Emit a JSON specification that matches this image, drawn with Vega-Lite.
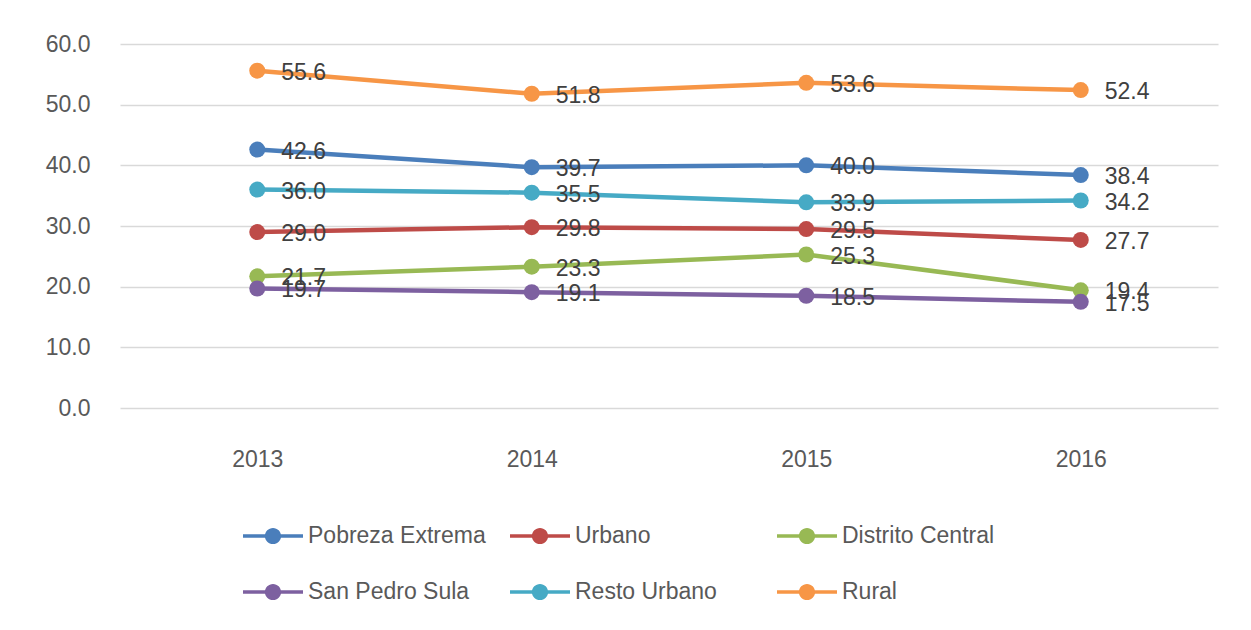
{
  "$schema": "https://vega.github.io/schema/vega-lite/v6.json",
  "width": 1098,
  "height": 364,
  "autosize": {"type": "none"},
  "padding": {"left": 120, "top": 44, "right": 33, "bottom": 222},
  "background": "white",
  "config": {
    "view": {"stroke": null},
    "font": "Liberation Sans",
    "axis": {"labelFont": "Liberation Sans", "labelFontSize": 23, "labelColor": "#595959", "domain": false, "ticks": false, "title": null}
  },
  "data": {
    "values": [
      {"year": "2013", "series": "Pobreza Extrema", "value": 42.6},
      {"year": "2014", "series": "Pobreza Extrema", "value": 39.7},
      {"year": "2015", "series": "Pobreza Extrema", "value": 40.0},
      {"year": "2016", "series": "Pobreza Extrema", "value": 38.4},
      {"year": "2013", "series": "Urbano", "value": 29.0},
      {"year": "2014", "series": "Urbano", "value": 29.8},
      {"year": "2015", "series": "Urbano", "value": 29.5},
      {"year": "2016", "series": "Urbano", "value": 27.7},
      {"year": "2013", "series": "Distrito Central", "value": 21.7},
      {"year": "2014", "series": "Distrito Central", "value": 23.3},
      {"year": "2015", "series": "Distrito Central", "value": 25.3},
      {"year": "2016", "series": "Distrito Central", "value": 19.4},
      {"year": "2013", "series": "San Pedro Sula", "value": 19.7},
      {"year": "2014", "series": "San Pedro Sula", "value": 19.1},
      {"year": "2015", "series": "San Pedro Sula", "value": 18.5},
      {"year": "2016", "series": "San Pedro Sula", "value": 17.5},
      {"year": "2013", "series": "Resto Urbano", "value": 36.0},
      {"year": "2014", "series": "Resto Urbano", "value": 35.5},
      {"year": "2015", "series": "Resto Urbano", "value": 33.9},
      {"year": "2016", "series": "Resto Urbano", "value": 34.2},
      {"year": "2013", "series": "Rural", "value": 55.6},
      {"year": "2014", "series": "Rural", "value": 51.8},
      {"year": "2015", "series": "Rural", "value": 53.6},
      {"year": "2016", "series": "Rural", "value": 52.4}
    ]
  },
  "encoding": {
    "x": {
      "field": "year", "type": "ordinal",
      "scale": {"type": "point", "padding": 0.5},
      "axis": {"labelAngle": 0, "labelPadding": 40, "grid": false}
    },
    "y": {
      "field": "value", "type": "quantitative",
      "scale": {"domain": [0, 60]},
      "axis": {"values": [0, 10, 20, 30, 40, 50, 60], "format": ".1f", "labelPadding": 30, "grid": true, "gridColor": "#d9d9d9", "gridWidth": 1.5}
    },
    "color": {
      "field": "series", "type": "nominal",
      "scale": {
        "domain": ["Pobreza Extrema", "San Pedro Sula", "Urbano", "Resto Urbano", "Distrito Central", "Rural"],
        "range": ["#4A7EBB", "#7D60A0", "#BE4B48", "#46AAC5", "#98B954", "#F79646"]
      },
      "legend": {
        "title": null,
        "orient": "none",
        "legendX": 123,
        "legendY": 462,
        "columns": 3,
        "gridAlign": "all",
        "columnPadding": 24,
        "rowPadding": 14,
        "symbolType": "M-1,-0.055L1,-0.055L1,0.055L-1,0.055Z M-0.27,0A0.27,0.27 0 1,1 0.27,0A0.27,0.27 0 1,1 -0.27,0Z",
        "symbolSize": 3600,
        "symbolStrokeWidth": 0,
        "symbolOpacity": 1,
        "labelFont": "Liberation Sans",
        "labelFontSize": 23,
        "labelColor": "#595959",
        "labelOffset": 5,
        "labelLimit": 400
      }
    }
  },
  "layer": [
    {
      "mark": {"type": "line", "strokeWidth": 4.5}
    },
    {
      "mark": {"type": "point", "filled": true, "shape": "circle", "size": 256, "opacity": 1}
    },
    {
      "mark": {"type": "text", "align": "left", "baseline": "middle", "dx": 24, "dy": 2, "fontSize": 23, "font": "Liberation Sans"},
      "encoding": {
        "text": {"field": "value", "type": "quantitative", "format": ".1f"},
        "color": {"value": "#404040"}
      }
    }
  ]
}
